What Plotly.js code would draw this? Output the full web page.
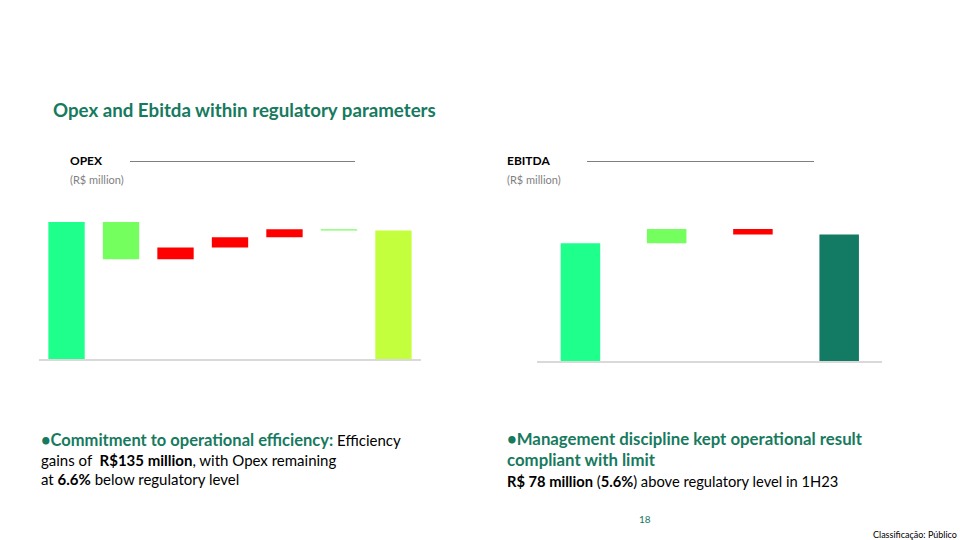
<!DOCTYPE html>
<html>
<head>
<meta charset="utf-8">
<script src="https://cdn.plot.ly/plotly-3.0.1.min.js"></script>
<style>html,body{margin:0;padding:0;background:#fff;}#chart{width:960px;height:540px;}</style>
</head>
<body>
<div id="chart"></div>
<script>
// ---- Data (R$ million) ----
const opexCategories = ['Opex base', 'Efficiency', 'Step 2', 'Step 3', 'Step 4', 'Step 5', 'Opex'];
const opexValues     = [497, -135, 43, 37, 29, -5, null];
const opexMeasures   = ['absolute', 'relative', 'relative', 'relative', 'relative', 'relative', 'total'];

const ebitdaCategories = ['Regulatory', 'Gains', 'Losses', 'EBITDA'];
const ebitdaValues     = [1393, 169, -67, null];
const ebitdaMeasures   = ['absolute', 'relative', 'relative', 'total'];

// ---- Build floating bars (waterfall) ----
function buildWaterfall(values, measures, colorFn) {
  let running = 0;
  const base = [], height = [], colors = [];
  values.forEach((v, i) => {
    const m = measures[i];
    if (m === 'absolute') { base.push(0); height.push(v); running = v; }
    else if (m === 'total') { base.push(0); height.push(running); }
    else {
      if (v >= 0) { base.push(running); height.push(v); }
      else { base.push(running + v); height.push(-v); }
      running += v;
    }
    colors.push(colorFn(m, v));
  });
  return { base, height, colors };
}

const opexW = buildWaterfall(opexValues, opexMeasures, (m, v) => {
  if (m === 'absolute') return '#1EFF8C';
  if (m === 'total') return '#C4FF3E';
  return v < 0 ? '#75FF5F' : '#FF0000';
});
const ebitdaW = buildWaterfall(ebitdaValues, ebitdaMeasures, (m, v) => {
  if (m === 'absolute') return '#1EFF8C';
  if (m === 'total') return '#137A63';
  return v >= 0 ? '#75FF5F' : '#FF0000';
});

const traces = [
  { type: 'bar', x: opexCategories, y: opexW.height, base: opexW.base,
    marker: { color: opexW.colors }, width: 0.667, xaxis: 'x', yaxis: 'y', hoverinfo: 'skip' },
  { type: 'bar', x: ebitdaCategories, y: ebitdaW.height, base: ebitdaW.base,
    marker: { color: ebitdaW.colors }, width: 0.458, xaxis: 'x2', yaxis: 'y2', hoverinfo: 'skip' }
];

const W = 960, H = 540;
const px = v => v / W;
const py = v => 1 - v / H;
const font = 'Lato, "Liberation Sans", sans-serif';
const green = '#177A5E';

function ann(text, x, y, size, color, extra) {
  return Object.assign({ text, x: px(x), y: py(y), xref: 'paper', yref: 'paper',
    xanchor: 'left', yanchor: 'middle', showarrow: false, align: 'left',
    font: { family: font, size, color } }, extra || {});
}

const layout = {
  width: W, height: H,
  margin: { l: 0, r: 0, t: 0, b: 0 },
  paper_bgcolor: '#fff', plot_bgcolor: 'rgba(0,0,0,0)',
  showlegend: false, barmode: 'overlay',
  xaxis:  { domain: [px(39.3), px(420.7)], showticklabels: false, ticks: '', showgrid: false,
            showline: true, linecolor: '#D9D9D9', linewidth: 2, zeroline: false, fixedrange: true },
  yaxis:  { domain: [py(359.3), py(200)], range: [0, 576.7], visible: false, fixedrange: true },
  xaxis2: { domain: [px(537.3), px(882.3)], anchor: 'y2', showticklabels: false, ticks: '', showgrid: false,
            showline: true, linecolor: '#D9D9D9', linewidth: 2, zeroline: false, fixedrange: true },
  yaxis2: { domain: [py(361.3), py(200)], range: [0, 1903], visible: false, fixedrange: true, anchor: 'x2' },
  shapes: [
    { type: 'line', xref: 'paper', yref: 'paper', x0: px(130), x1: px(355), y0: py(161.5), y1: py(161.5),
      line: { color: '#7F7F7F', width: 1 } },
    { type: 'line', xref: 'paper', yref: 'paper', x0: px(587), x1: px(814), y0: py(161.5), y1: py(161.5),
      line: { color: '#7F7F7F', width: 1 } }
  ],
  annotations: [
    ann('<b>Opex and Ebitda within regulatory parameters</b>', 51, 110, 18.7, green),
    ann('<b>OPEX</b>', 68, 160, 12, '#000'),
    ann('(R$ million)', 68, 179, 11, '#7F7F7F'),
    ann('<b>EBITDA</b>', 505, 160, 12, '#000'),
    ann('(R$ million)', 505, 179, 11, '#7F7F7F'),
    ann('<span style="color:' + green + ';font-size:16.5px"><b>•Commitment to operational efficiency:</b></span> Efficiency<br>' +
        'gains of  <b>R$135 million</b>, with Opex remaining<br>at <b>6.6%</b> below regulatory level',
        39, 459, 15, '#000'),
    ann('<span style="color:' + green + ';font-size:16.8px"><b>•Management discipline kept operational result<br>compliant with limit</b></span><br>' +
        '<span style="font-size:14.7px"><b>R$ 78 million</b> (<b>5.6%</b>) above regulatory level in 1H23</span>',
        505, 459, 16.2, '#000'),
    ann('18', 637, 519, 10, green),
    ann('Classificação: Público', 959, 534, 9, '#000', { xanchor: 'right' })
  ]
};

Plotly.newPlot('chart', traces, layout, { displayModeBar: false, staticPlot: true });
</script>
</body>
</html>
